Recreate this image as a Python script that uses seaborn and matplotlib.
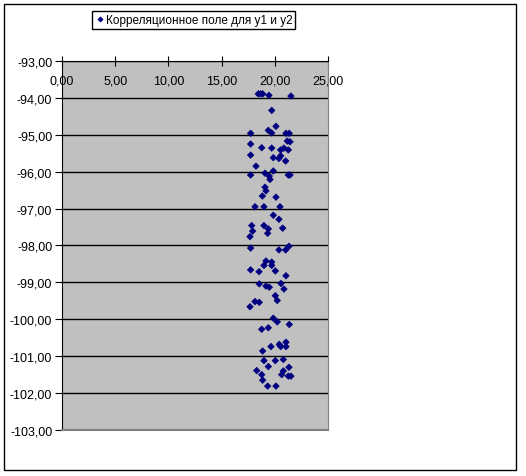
import pandas as pd
import seaborn as sns
import matplotlib.pyplot as plt
from matplotlib.patches import Rectangle
from matplotlib.ticker import FuncFormatter, MultipleLocator

# Data
y1 = [18.45, 18.86, 19.45, 21.52, 19.71, 20.11, 19.39, 19.71, 17.73, 21.05,
      21.36, 21.17, 21.43, 17.73, 18.77, 19.71, 20.55, 20.86, 21.27, 17.73,
      19.86, 20.39, 20.55, 21.02, 18.23, 17.73, 19.08, 19.86, 19.48, 19.55,
      21.27, 21.43, 19.08, 19.17, 18.83, 20.11, 18.14, 18.98, 20.49, 19.86,
      20.39, 17.83, 18.98, 19.39, 19.33, 17.92, 17.67, 20.74, 17.73, 20.39,
      21.02, 21.33, 19.17, 18.98, 19.71, 19.71, 17.73, 18.52, 20.05, 21.05,
      18.54, 19.17, 19.48, 20.58, 20.86, 20.05, 20.23, 18.14, 18.54, 17.67,
      19.86, 20.23, 21.36, 18.77, 19.39, 21.05, 21.05, 20.42, 20.55, 19.64,
      18.86, 18.98, 20.05, 20.80, 19.39, 18.30, 18.77, 18.86, 20.80, 20.65,
      21.33, 21.27, 21.52, 19.33, 20.11, 18.65]
y2 = [-93.89, -93.89, -93.93, -93.95, -94.34, -94.77, -94.88, -94.95, -94.96, -94.96,
      -94.96, -95.17, -95.19, -95.25, -95.35, -95.36, -95.41, -95.36, -95.41, -95.55,
      -95.62, -95.64, -95.57, -95.71, -95.85, -96.09, -96.04, -95.98, -96.12, -96.21,
      -96.09, -96.09, -96.42, -96.52, -96.66, -96.69, -96.95, -96.95, -96.95, -97.18,
      -97.29, -97.46, -97.46, -97.55, -97.67, -97.61, -97.76, -97.53, -98.07, -98.12,
      -98.12, -98.02, -98.42, -98.54, -98.45, -98.54, -98.66, -98.71, -98.69, -98.82,
      -99.04, -99.10, -99.13, -99.03, -99.18, -99.36, -99.49, -99.52, -99.54, -99.66,
      -99.97, -100.07, -100.14, -100.27, -100.23, -100.62, -100.74, -100.68, -100.74, -100.74,
      -100.86, -101.12, -101.12, -101.09, -101.28, -101.39, -101.50, -101.65, -101.40, -101.50,
      -101.30, -101.54, -101.54, -101.81, -101.81, -93.89]
series_name = 'Корреляционное поле для y1 и y2'

df = pd.DataFrame({'y1': y1, 'y2': y2, 'series': series_name})

plt.rcParams['font.family'] = ['Liberation Sans', 'DejaVu Sans']
plt.rcParams['font.size'] = 9

fig = plt.figure(figsize=(5.26, 4.77), dpi=100)
ax = fig.add_axes([62 / 526, 46 / 477, 266 / 526, 369 / 477])
ax.set_facecolor('#c0c0c0')

sns.scatterplot(data=df, x='y1', y='y2', hue='series', palette=['#000080'],
                marker='D', s=11, edgecolor='#000080', linewidth=0.5, ax=ax)

ax.set_xlim(0, 25)
ax.set_ylim(-103, -93)
ax.xaxis.set_major_locator(MultipleLocator(5))
ax.yaxis.set_major_locator(MultipleLocator(1))
fmt = FuncFormatter(lambda v, p: f'{v:.2f}'.replace('.', ','))
ax.xaxis.set_major_formatter(fmt)
ax.yaxis.set_major_formatter(fmt)
ax.set_xlabel('')
ax.set_ylabel('')

# horizontal axis crosses at the top (-93), labels below it
ax.spines['bottom'].set_position(('data', -93))
ax.spines['bottom'].set_color('black')
ax.spines['left'].set_color('black')
ax.spines['top'].set_visible(False)
ax.spines['right'].set_color('#808080')
ax.axhline(-103, color='#808080', lw=1.5, clip_on=False, zorder=3)
ax.tick_params(axis='x', direction='inout', length=7, pad=6, colors='black')
ax.tick_params(axis='y', direction='out', length=5, pad=2, colors='black')
ax.grid(axis='y', color='black', lw=1)
ax.grid(axis='x', visible=False)
ax.set_axisbelow(True)

leg = ax.legend(loc='upper left', bbox_to_anchor=(92 / 526, 1 - 12 / 477),
                bbox_transform=fig.transFigure, borderaxespad=0, fancybox=False,
                edgecolor='black', framealpha=1, handletextpad=0.1,
                borderpad=0.25, handlelength=0.8, markerscale=0.8, fontsize=8.5)
leg.get_frame().set_linewidth(1)

fig.patches.append(Rectangle((4 / 526, 1 - 471 / 477), 512 / 526, 466 / 477,
                             transform=fig.transFigure, fill=False,
                             edgecolor='black', lw=1))

fig.savefig('out.png')
